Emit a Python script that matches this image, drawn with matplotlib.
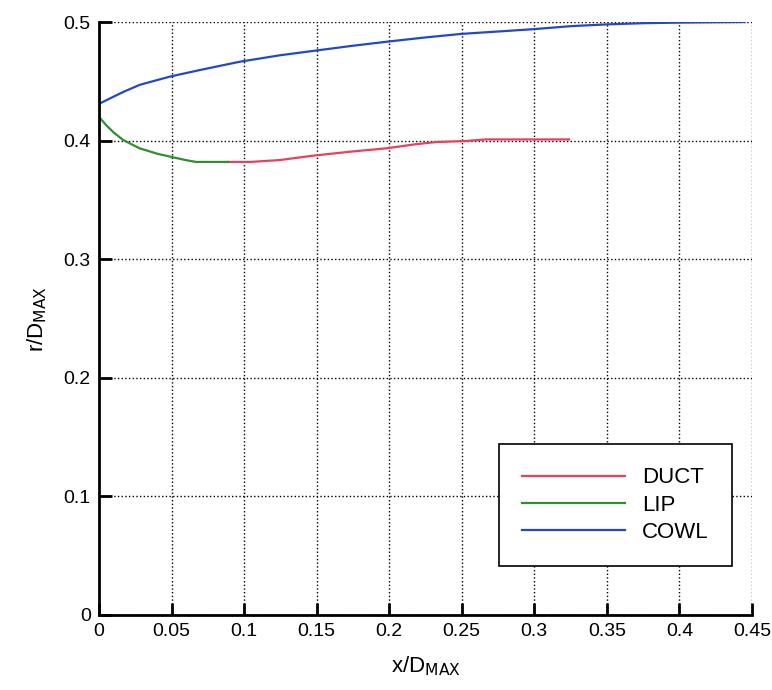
import numpy as np
import matplotlib
matplotlib.use('Agg')
import matplotlib.pyplot as plt

plt.rcParams['font.family'] = ['Liberation Sans', 'DejaVu Sans']
plt.rcParams['font.size'] = 14

# COWL (outer surface)
cowl_x = [0.0, 0.005, 0.01, 0.0167, 0.028, 0.049, 0.0695, 0.097, 0.125, 0.15, 0.175, 0.2,
          0.225, 0.25, 0.275, 0.3, 0.325, 0.35, 0.375, 0.4, 0.425, 0.445]
cowl_y = [0.431, 0.434, 0.437, 0.441, 0.447, 0.454, 0.4595, 0.4665, 0.472, 0.476, 0.480, 0.4836,
          0.487, 0.490, 0.492, 0.494, 0.4965, 0.498, 0.499, 0.4995, 0.4998, 0.500]

# LIP
lip_x = [0.0, 0.005, 0.01, 0.0167, 0.028, 0.04, 0.049, 0.06, 0.067, 0.08, 0.089]
lip_y = [0.420, 0.413, 0.407, 0.4005, 0.3935, 0.389, 0.3865, 0.3835, 0.382, 0.382, 0.382]

# DUCT
duct_x = [0.089, 0.104, 0.1246, 0.1475, 0.1727, 0.198, 0.2186, 0.2324, 0.253, 0.2668, 0.29, 0.324]
duct_y = [0.382, 0.382, 0.3836, 0.3873, 0.3906, 0.3935, 0.397, 0.3988, 0.3997, 0.401, 0.401, 0.401]

fig = plt.figure(figsize=(7.72, 6.90), dpi=100)
ax = fig.add_axes([0.1282, 0.1087, 0.8458, 0.8594])

ax.plot(duct_x, duct_y, color='#e6415f', linewidth=1.6, label='DUCT')
ax.plot(lip_x, lip_y, color='#2f8f2f', linewidth=1.6, label='LIP')
ax.plot(cowl_x, cowl_y, color='#2448c4', linewidth=1.6, label='COWL')

ax.set_xlim(0, 0.45)
ax.set_ylim(0, 0.5)
ax.set_xticks(np.arange(0, 0.451, 0.05))
ax.set_yticks(np.arange(0, 0.51, 0.1))
ax.set_xticklabels(['0', '0.05', '0.1', '0.15', '0.2', '0.25', '0.3', '0.35', '0.4', '0.45'])
ax.set_yticklabels(['0', '0.1', '0.2', '0.3', '0.4', '0.5'])

ax.spines['top'].set_visible(False)
ax.spines['right'].set_visible(False)
ax.spines['left'].set_linewidth(2)
ax.spines['bottom'].set_linewidth(2)
ax.tick_params(direction='in', length=9, width=2, labelsize=14, pad=6)

ax.grid(True, color='black', linestyle=':', linewidth=1)
ax.set_axisbelow(True)

ax.set_xlabel(r'x/D$_{\mathrm{MAX}}$', fontsize=16, labelpad=10)
ax.set_ylabel(r'r/D$_{\mathrm{MAX}}$', fontsize=16, labelpad=10)

leg = ax.legend(loc='upper left', bbox_to_anchor=(0.6126, 0.2883),
                fancybox=False, framealpha=1, edgecolor='black', fontsize=16,
                handlelength=4.6, handletextpad=0.8, labelspacing=0.28, borderpad=1.05,
                borderaxespad=0)
leg.get_frame().set_linewidth(1.2)

fig.savefig('out.png', dpi=100)
